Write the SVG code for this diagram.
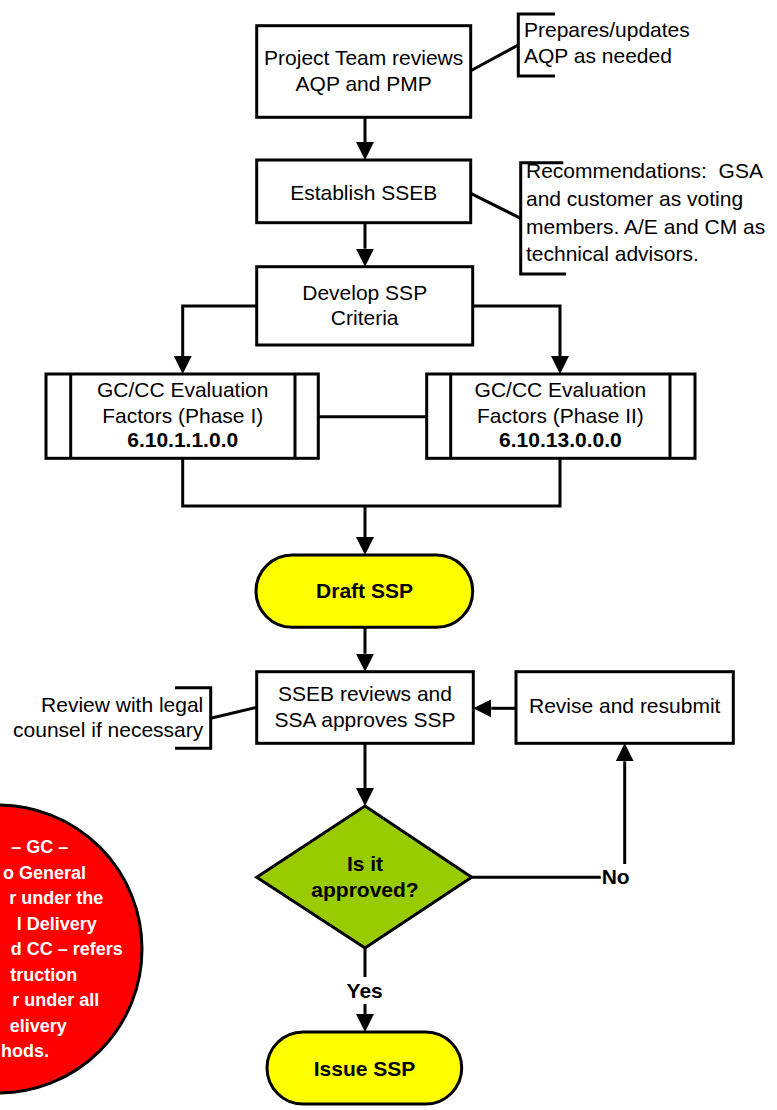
<svg xmlns="http://www.w3.org/2000/svg" width="777" height="1110" viewBox="0 0 777 1110">
<style>
  .box { fill: #ffffff; stroke: #000000; stroke-width: 3; }
  .ln { fill: none; stroke: #000000; stroke-width: 3; }
  .t { font-family: "Liberation Sans", Arial, sans-serif; font-size: 21px; fill: #000000; }
  .c { text-anchor: middle; }
  .b { font-weight: bold; }
  .note { font-family: "Liberation Sans", Arial, sans-serif; font-size: 18px; font-weight: bold; fill: #ffffff; text-anchor: end; }
</style>
<defs>
  <marker id="arrow" markerUnits="userSpaceOnUse" markerWidth="18" markerHeight="18" refX="0" refY="9" orient="auto" viewBox="0 0 18 18">
    <path d="M0,0 L18,9 L0,18 Z" fill="#000000"/>
  </marker>
</defs>
<rect x="0" y="0" width="777" height="1110" fill="#ffffff"/>

<g id="connectors">
  <path class="ln" d="M365,117.3 V142" marker-end="url(#arrow)"/>
  <path class="ln" d="M365,222.7 V248.7" marker-end="url(#arrow)"/>
  <path class="ln" d="M256.7,306 H182.7 V356" marker-end="url(#arrow)"/>
  <path class="ln" d="M472.7,306 H560 V356" marker-end="url(#arrow)"/>
  <path class="ln" d="M318.3,416.7 H426.7"/>
  <path class="ln" d="M182.7,458.3 V506 H560 V458.3"/>
  <path class="ln" d="M365,506 V537" marker-end="url(#arrow)"/>
  <path class="ln" d="M365,627.3 V653.7" marker-end="url(#arrow)"/>
  <path class="ln" d="M365,743.3 V788" marker-end="url(#arrow)"/>
  <path class="ln" d="M516,708.3 H491.3" marker-end="url(#arrow)"/>
  <path class="ln" d="M471.7,877.3 H600.7"/>
  <path class="ln" d="M624.7,864 V761.3" marker-end="url(#arrow)"/>
  <path class="ln" d="M365,948 V977"/>
  <path class="ln" d="M365,1004 V1014" marker-end="url(#arrow)"/>
  <text class="t b" x="601.7" y="884">No</text>
  <text class="t b c" x="364.7" y="998">Yes</text>
</g>

<g id="note-circle">
  <circle cx="-2" cy="949" r="144" fill="#ff0000" stroke="#000000" stroke-width="3"/>
  <text class="note" x="68.3" y="853">– GC –</text>
  <text class="note" x="86" y="878.5">o General</text>
  <text class="note" x="103.3" y="904">r under the</text>
  <text class="note" x="96.7" y="929.5">l Delivery</text>
  <text class="note" x="122.7" y="955">d CC – refers</text>
  <text class="note" x="77.3" y="980.5">truction</text>
  <text class="note" x="99.3" y="1006">r under all</text>
  <text class="note" x="66.7" y="1031.5">elivery</text>
  <text class="note" x="49" y="1057">hods.</text>
</g>

<g id="project-team-review">
  <rect class="box" x="256.7" y="25.7" width="214" height="91.6"/>
  <text class="t c" x="363.7" y="65">Project Team reviews</text>
  <text class="t c" x="363.7" y="91">AQP and PMP</text>
</g>

<g id="note-prepares">
  <path class="ln" d="M470.7,70.7 L518.3,45"/>
  <path class="ln" d="M555,14 H518.3 V76 H555"/>
  <text class="t" x="524" y="37.3">Prepares/updates</text>
  <text class="t" x="524" y="63.3">AQP as needed</text>
</g>

<g id="establish-sseb">
  <rect class="box" x="256.7" y="160" width="214" height="62.7"/>
  <text class="t c" x="363.7" y="200">Establish SSEB</text>
</g>

<g id="note-recommendations">
  <path class="ln" d="M470.7,193.3 L520.7,218.3"/>
  <path class="ln" d="M563.3,162.7 H520.7 V274 H566"/>
  <text class="t" x="526" y="178.3">Recommendations:&#160; GSA</text>
  <text class="t" x="526" y="206">and customer as voting</text>
  <text class="t" x="526" y="234">members. A/E and CM as</text>
  <text class="t" x="526" y="260.7">technical advisors.</text>
</g>

<g id="develop-ssp">
  <rect class="box" x="256.7" y="266.7" width="216" height="78.3"/>
  <text class="t c" x="364.7" y="300">Develop SSP</text>
  <text class="t c" x="364.7" y="325">Criteria</text>
</g>

<g id="eval-phase1">
  <rect class="box" x="46" y="374" width="272.3" height="84.3"/>
  <path class="ln" d="M70.7,374 V458.3 M295,374 V458.3"/>
  <text class="t c" x="182.7" y="397.3">GC/CC Evaluation</text>
  <text class="t c" x="182.7" y="423.3">Factors (Phase I)</text>
  <text class="t c b" x="182.7" y="447.3">6.10.1.1.0.0</text>
</g>

<g id="eval-phase2">
  <rect class="box" x="426.7" y="374" width="268.3" height="84.3"/>
  <path class="ln" d="M450.7,374 V458.3 M670,374 V458.3"/>
  <text class="t c" x="560.4" y="397.3">GC/CC Evaluation</text>
  <text class="t c" x="560.4" y="423.3">Factors (Phase II)</text>
  <text class="t c b" x="560.4" y="447.3">6.10.13.0.0.0</text>
</g>

<g id="draft-ssp">
  <rect x="256" y="555" width="216.7" height="72.3" rx="36.15" ry="36.15" fill="#ffff00" stroke="#000000" stroke-width="3"/>
  <text class="t c b" x="364.5" y="597.7">Draft SSP</text>
</g>

<g id="sseb-reviews">
  <rect class="box" x="256.7" y="671.7" width="216.6" height="71.6"/>
  <text class="t c" x="365" y="700.7">SSEB reviews and</text>
  <text class="t c" x="365" y="726.7">SSA approves SSP</text>
</g>

<g id="note-legal">
  <path class="ln" d="M256.7,707.3 L210.7,718.3"/>
  <path class="ln" d="M175,687.7 H210.7 V748.3 H175"/>
  <text class="t" x="203.3" y="712" text-anchor="end">Review with legal</text>
  <text class="t" x="203.3" y="737" text-anchor="end">counsel if necessary</text>
</g>

<g id="revise-resubmit">
  <rect class="box" x="516" y="671.7" width="217.3" height="71.6"/>
  <text class="t c" x="624.7" y="713.3">Revise and resubmit</text>
</g>

<g id="is-approved">
  <polygon points="365,806 471.7,877.3 365,948 256.7,877.3" fill="#99cc00" stroke="#000000" stroke-width="3" stroke-linejoin="miter"/>
  <text class="t c b" x="365" y="870.7">Is it</text>
  <text class="t c b" x="365" y="896.7">approved?</text>
</g>

<g id="issue-ssp">
  <rect x="267" y="1032" width="194.7" height="72" rx="36" ry="36" fill="#ffff00" stroke="#000000" stroke-width="3"/>
  <text class="t c b" x="364.5" y="1076">Issue SSP</text>
</g>
</svg>
